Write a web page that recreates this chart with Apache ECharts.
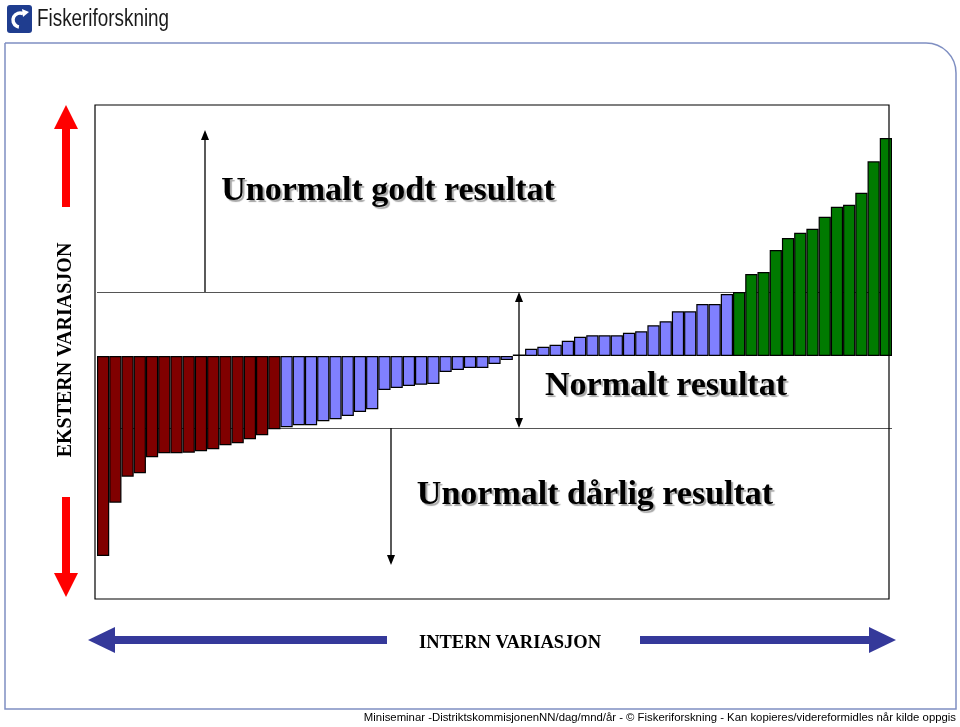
<!DOCTYPE html>
<html>
<head>
<meta charset="utf-8">
<script src="https://cdn.jsdelivr.net/npm/echarts@6/dist/echarts.min.js"></script>
<style>
html,body{margin:0;padding:0;background:#fff;}
#chart{width:960px;height:727px;}
</style>
</head>
<body>
<div id="chart"></div>
<script>
// Values (relative units, 0 = baseline)
var redValues = [-200, -146.7, -120.7, -117.3, -101.3, -97.3, -97.3, -96.7, -95.3, -93.3, -89.3, -87.3, -83.3, -79.3, -73.3];
var blueValues = [-71.3, -69.3, -69.3, -65.3, -63.3, -60, -56, -53.3, -34, -32, -30, -28.7, -28, -16, -14, -12, -12, -8, -4, 1.5,
  7.3, 9.3, 11.3, 15.3, 19.3, 20.7, 20.7, 20.7, 23.3, 24.7, 30.7, 34.7, 44.7, 44.7, 52, 52, 62];
var greenValues = [64, 82, 84, 106, 118, 123.3, 127.3, 139.3, 149.3, 151.3, 163.3, 194.7, 218];
var upperLimit = 64;
var lowerLimit = -72;

var total = redValues.length + blueValues.length + greenValues.length;
var categories = [];
for (var i = 0; i < total; i++) categories.push(String(i + 1));

function pad(vals, before, after) {
  var out = [];
  for (var i = 0; i < before; i++) out.push('-');
  out = out.concat(vals);
  for (var j = 0; j < after; j++) out.push('-');
  return out;
}
var redData = pad(redValues, 0, blueValues.length + greenValues.length);
var blueData = pad(blueValues, redValues.length, greenValues.length);
var greenData = pad(greenValues, redValues.length + blueValues.length, 0);

var chart = echarts.init(document.getElementById('chart'), null, {renderer: 'canvas'});

var serif = '"Liberation Serif", "Times New Roman", serif';
var sans = '"Liberation Sans", Arial, sans-serif';
var titleShadow = {textShadowColor: 'rgba(0,0,0,0.35)', textShadowOffsetX: 2, textShadowOffsetY: 2, textShadowBlur: 1};

function arrowHead(x, y, dir, w, h, color) {
  var pts;
  if (dir === 'up') pts = [[x, y], [x - w, y + h], [x + w, y + h]];
  else if (dir === 'down') pts = [[x, y], [x - w, y - h], [x + w, y - h]];
  else if (dir === 'left') pts = [[x, y], [x + h, y - w], [x + h, y + w]];
  else pts = [[x, y], [x - h, y - w], [x - h, y + w]];
  return {type: 'polygon', shape: {points: pts}, style: {fill: color}, silent: true, z: 20};
}
function vline(x, y1, y2) {
  return {type: 'line', shape: {x1: x, y1: y1, x2: x, y2: y2}, style: {stroke: '#000', lineWidth: 1.3}, silent: true, z: 20};
}

var graphics = [
  {type: 'rect', shape: {x: 5, y: 43, width: 951, height: 666, r: [0, 30, 0, 0]}, style: {fill: 'none', stroke: '#7f8fc2', lineWidth: 1.5}, silent: true, z: 1},
  {type: 'rect', shape: {x: 7, y: 5, width: 25, height: 28, r: 3}, style: {fill: '#1f3d8f'}, silent: true, z: 5},
  {type: 'arc', shape: {cx: 20, cy: 20, r: 7, startAngle: -Math.PI * 0.35, endAngle: Math.PI * 0.55, clockwise: false}, style: {stroke: '#ffffff', lineWidth: 3.5, fill: 'none'}, silent: true, z: 6},
  {type: 'polygon', shape: {points: [[22, 9], [29, 12], [23, 17]]}, style: {fill: '#ffffff'}, silent: true, z: 6},
  {type: 'text', x: 37, y: 20, scaleX: 0.82, style: {text: 'Fiskeriforskning', font: '23px ' + sans, fill: '#1a1a1a', align: 'left', verticalAlign: 'middle'}, silent: true, z: 5},
  {type: 'rect', shape: {x: 95, y: 105, width: 794, height: 494}, style: {fill: 'none', stroke: '#000', lineWidth: 1.2}, silent: true, z: 15},
  vline(205, 292, 134), arrowHead(205, 130, 'up', 4, 10, '#000'),
  vline(519, 300, 420), arrowHead(519, 292, 'up', 4, 10, '#000'), arrowHead(519, 428, 'down', 4, 10, '#000'),
  vline(391, 428, 560), arrowHead(391, 565, 'down', 4, 10, '#000'),
  {type: 'text', x: 388, y: 191, style: Object.assign({text: 'Unormalt godt resultat', font: 'bold 34px ' + serif, fill: '#000', align: 'center', verticalAlign: 'middle'}, titleShadow), silent: true, z: 20},
  {type: 'text', x: 666, y: 386, style: Object.assign({text: 'Normalt resultat', font: 'bold 34px ' + serif, fill: '#000', align: 'center', verticalAlign: 'middle'}, titleShadow), silent: true, z: 20},
  {type: 'text', x: 595, y: 495, style: Object.assign({text: 'Unormalt dårlig resultat', font: 'bold 34px ' + serif, fill: '#000', align: 'center', verticalAlign: 'middle'}, titleShadow), silent: true, z: 20},
  {type: 'rect', shape: {x: 62, y: 125, width: 8, height: 82}, style: {fill: '#ff0000'}, silent: true, z: 10},
  arrowHead(66, 105, 'up', 12, 24, '#ff0000'),
  {type: 'rect', shape: {x: 62, y: 497, width: 8, height: 80}, style: {fill: '#ff0000'}, silent: true, z: 10},
  arrowHead(66, 597, 'down', 12, 24, '#ff0000'),
  {type: 'text', x: 66, y: 350, rotation: Math.PI / 2, style: {text: 'EKSTERN VARIASJON', font: 'bold 20px ' + serif, fill: '#000', align: 'center', verticalAlign: 'middle'}, silent: true, z: 10},
  {type: 'rect', shape: {x: 113, y: 636, width: 274, height: 8}, style: {fill: '#35399a'}, silent: true, z: 10},
  arrowHead(88, 640, 'left', 13, 27, '#35399a'),
  {type: 'rect', shape: {x: 640, y: 636, width: 230, height: 8}, style: {fill: '#35399a'}, silent: true, z: 10},
  arrowHead(896, 640, 'right', 13, 27, '#35399a'),
  {type: 'text', x: 510, y: 643, style: {text: 'INTERN VARIASJON', font: 'bold 18.5px ' + serif, fill: '#000', align: 'center', verticalAlign: 'middle'}, silent: true, z: 10},
  {type: 'text', x: 956, y: 718, style: {text: 'Miniseminar -DistriktskommisjonenNN/dag/mnd/år - © Fiskeriforskning - Kan kopieres/videreformidles når kilde oppgis', font: '11.35px ' + sans, fill: '#000', align: 'right', verticalAlign: 'middle'}, silent: true, z: 10}
];

function barSeries(name, data, color, extra) {
  var s = {
    name: name, type: 'bar', stack: 'all', data: data,
    barCategoryGap: '0%',
    itemStyle: {color: color, borderColor: '#000', borderWidth: 1.2},
    emphasis: {disabled: true},
    animation: false,
    z: 3
  };
  if (extra) Object.assign(s, extra);
  return s;
}

chart.setOption({
  backgroundColor: '#ffffff',
  animation: false,
  grid: {left: 97, top: 105, width: 795, height: 494, containLabel: false},
  xAxis: {type: 'category', data: categories, show: false, boundaryGap: true},
  yAxis: {type: 'value', min: -243, max: 251, show: false},
  series: [
    barSeries('red', redData, '#800000', {
      markLine: {
        silent: true, symbol: 'none', animation: false,
        label: {show: false},
        lineStyle: {color: '#555555', width: 1.2, type: 'solid'},
        data: [{yAxis: upperLimit}, {yAxis: lowerLimit}],
        z: 1
      }
    }),
    barSeries('blue', blueData, '#8080ff'),
    barSeries('green', greenData, '#007a00')
  ],
  graphic: graphics
});
</script>
</body>
</html>
